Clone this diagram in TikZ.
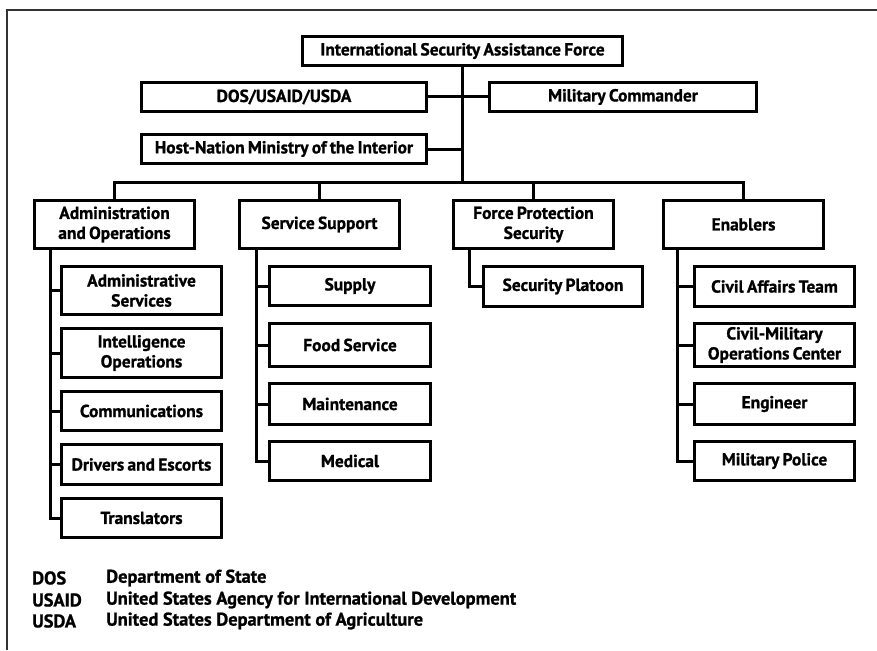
\documentclass[tikz,border=0pt]{standalone}
\usepackage{fontspec}
\setmainfont{PT Sans}[BoldFont={PT Sans Bold},BoldFeatures={FakeBold=1},WordSpace=0.75]
\newfontfamily\legfont{PT Sans Bold}[FakeBold=1]
\usetikzlibrary{positioning}
\begin{document}
\begin{tikzpicture}[x=1pt,y=-1pt,
  box/.style={draw=black,line width=3pt,fill=white,align=center,inner sep=0pt,
    font=\fontsize{17.4}{20}\selectfont\bfseries},
  conn/.style={line width=3pt,draw=black},
  legend/.style={anchor=west,inner sep=0pt,font=\fontsize{18.4}{20}\selectfont\legfont}]
\useasboundingbox (0,0) rectangle (877,650);
\draw[line width=2pt,draw=black!80] (877,10) -- (7,10) -- (7,650);
% level 0/1
\node[box,minimum width=320pt,minimum height=29pt] (isaf) at (462.5,51) {International Security Assistance Force};
\node[box,minimum width=285pt,minimum height=29pt] (dos) at (284,97) {DOS/USAID/USDA};
\node[box,minimum width=267pt,minimum height=29pt] (mc) at (623,97) {Military Commander};
\node[box,minimum width=285pt,minimum height=29pt] (hn) at (284,149) {Host-Nation Ministry of the Interior};
\coordinate (bus) at (462,182);
% level 2
\node[box,minimum width=160pt,minimum height=48pt] (adm) at (114.5,224.5) {Administration\\and Operations};
\node[box,minimum width=160pt,minimum height=48pt] (ss) at (319.5,224.5) {Service Support};
\node[box,minimum width=160pt,minimum height=48pt] (fp) at (533.5,224.5) {Force Protection\\Security};
\node[box,minimum width=160pt,minimum height=48pt] (en) at (743.5,224.5) {Enablers};
% admin children
\node[box,minimum width=160pt,minimum height=48pt] (as) at (141.5,290.5) {Administrative\\Services};
\node[box,minimum width=160pt,minimum height=49pt] (io) at (141.5,353) {Intelligence\\Operations};
\node[box,minimum width=160pt,minimum height=39pt] (com) at (141.5,411) {Communications};
\node[box,minimum width=160pt,minimum height=40pt] (drv) at (141.5,464.5) {Drivers and Escorts};
\node[box,minimum width=160pt,minimum height=39pt] (tr) at (141.5,518) {Translators};
\coordinate (sa) at (50,250);
% service support children
\node[box,minimum width=161pt,minimum height=39pt] (sup) at (350,286) {Supply};
\node[box,minimum width=161pt,minimum height=43pt] (food) at (350,345) {Food Service};
\node[box,minimum width=161pt,minimum height=41pt] (mnt) at (350,404) {Maintenance};
\node[box,minimum width=161pt,minimum height=39pt] (med) at (350,461) {Medical};
\coordinate (sb) at (256,250);
% force protection child
\node[box,minimum width=159pt,minimum height=40pt] (sp) at (563,286.5) {Security Platoon};
\coordinate (sc) at (469,250);
% enablers children
\node[box,minimum width=160pt,minimum height=40pt] (ca) at (774.5,286.5) {Civil Affairs Team};
\node[box,minimum width=160pt,minimum height=43pt] (cmoc) at (774.5,345) {Civil-Military\\Operations Center};
\node[box,minimum width=160pt,minimum height=41pt] (eng) at (774.5,404) {Engineer};
\node[box,minimum width=160pt,minimum height=39pt] (mp) at (774.5,461) {Military Police};
\coordinate (sd) at (677,250);
% connectors top
\draw[conn] (isaf.south -| bus) -- (bus);
\draw[conn] (dos.east) -- (mc.west);
\draw[conn] (hn.east) -- (hn.east -| bus);
\draw[conn] (adm.north) |- (bus) -| (en.north);
\draw[conn] (ss.north) -- (ss.north |- bus);
\draw[conn] (fp.north) -- (fp.north |- bus);
% trees
\draw[conn] (adm.south -| sa) |- (tr.west);
\foreach \n in {as,io,com,drv} \draw[conn] (\n.west) -- (\n.west -| sa);
\draw[conn] (ss.south -| sb) |- (med.west);
\foreach \n in {sup,food,mnt} \draw[conn] (\n.west) -- (\n.west -| sb);
\draw[conn] (fp.south -| sc) |- (sp.west);
\draw[conn] (en.south -| sd) |- (mp.west);
\foreach \n in {ca,cmoc,eng} \draw[conn] (\n.west) -- (\n.west -| sd);
% legend
\node[legend] (l1) at (32,578) {DOS};
\node[legend] (l2) at (32,600) {USAID};
\node[legend] (l3) at (32,621) {USDA};
\node[legend] (d1) at (106,578) {Department of State};
\node[legend] (d2) at (106,600) {United States Agency for International Development};
\node[legend] (d3) at (106,621) {United States Department of Agriculture};
\end{tikzpicture}
\end{document}
